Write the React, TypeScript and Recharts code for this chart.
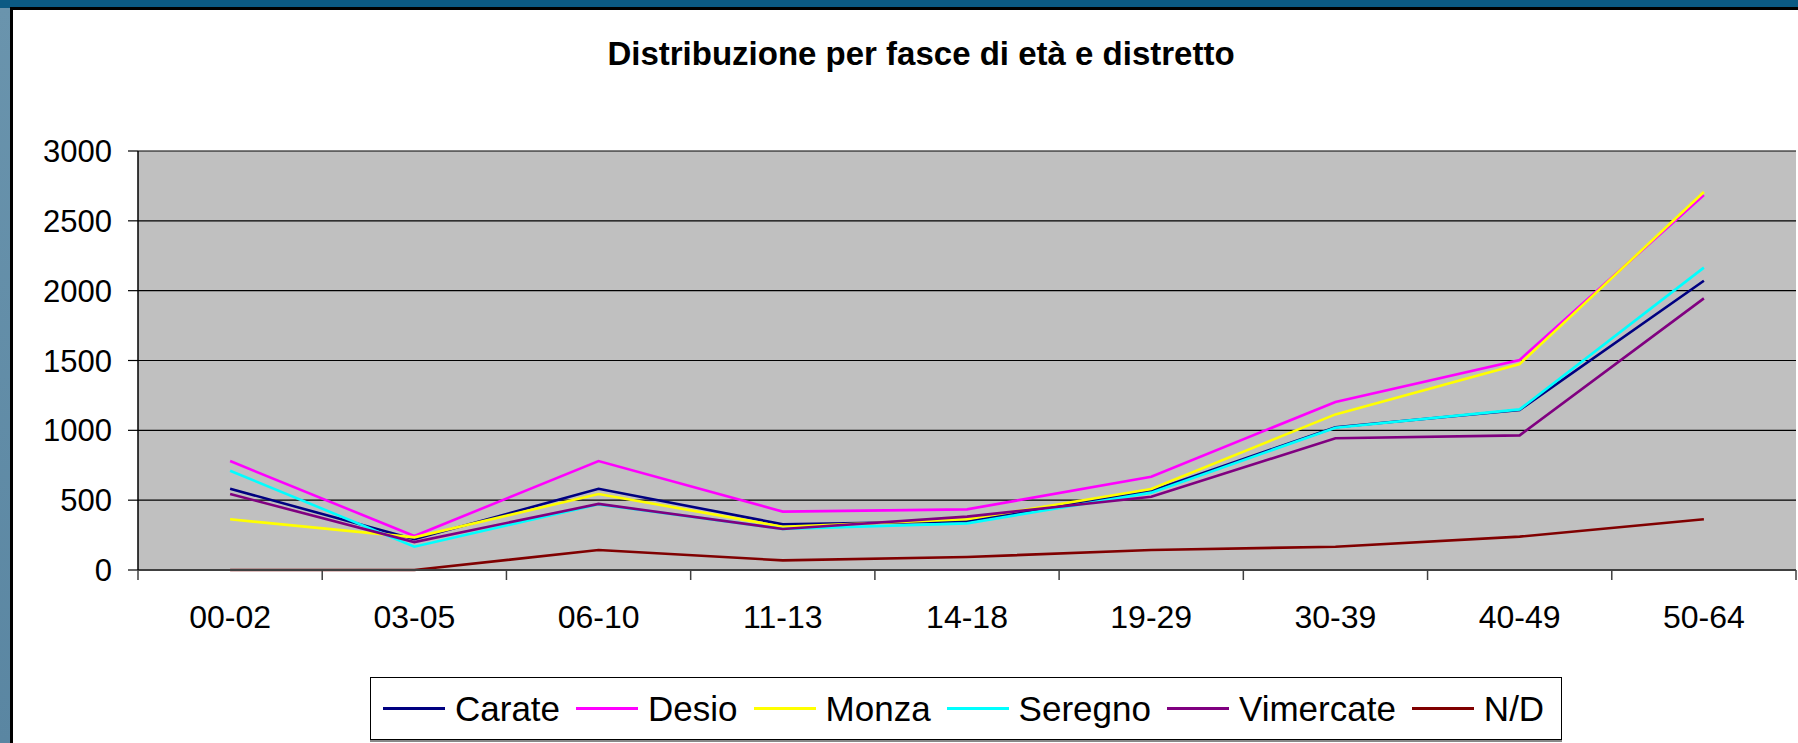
import { LineChart, Line, XAxis, YAxis, CartesianGrid, Legend } from "recharts";

const categories = ["00-02", "03-05", "06-10", "11-13", "14-18", "19-29", "30-39", "40-49", "50-64"];
const carate = [582, 220, 582, 327, 349, 566, 1022, 1146, 2071];
const desio = [780, 243, 780, 418, 434, 668, 1203, 1504, 2685];
const monza = [363, 234, 544, 310, 363, 580, 1114, 1475, 2706];
const seregno = [711, 167, 470, 294, 334, 554, 1019, 1150, 2165];
const vimercate = [544, 200, 473, 294, 382, 525, 943, 964, 1945];
const nd = [0, 0, 143, 69, 93, 143, 167, 239, 363];
const yTicks = [0, 500, 1000, 1500, 2000, 2500, 3000];

const series = [
  { key: "Carate", values: carate, color: "#000080" },
  { key: "Desio", values: desio, color: "#FF00FF" },
  { key: "Monza", values: monza, color: "#FFFF00" },
  { key: "Seregno", values: seregno, color: "#00FFFF" },
  { key: "Vimercate", values: vimercate, color: "#800080" },
  { key: "N/D", values: nd, color: "#800000" },
];

const data = categories.map((cat, i) => {
  const row: Record<string, string | number> = { cat };
  series.forEach((s) => {
    row[s.key] = s.values[i];
  });
  return row;
});

const W = 1798;
const H = 743;
const PLOT_LEFT = 138;
const PLOT_RIGHT = 1796;
const BAND = (PLOT_RIGHT - PLOT_LEFT) / categories.length;
const FONT = "'Liberation Sans', Arial, sans-serif";

// category label at band centre, tick marks between categories (Excel style)
const CategoryTick = (props: any) => {
  const { x, y, payload, index } = props;
  const left = x - BAND / 2;
  const right = x + BAND / 2;
  return (
    <g>
      <line x1={left} y1={y - 10} x2={left} y2={y} stroke="#404040" strokeWidth={1.5} />
      {index === categories.length - 1 && (
        <line x1={right} y1={y - 10} x2={right} y2={y} stroke="#404040" strokeWidth={1.5} />
      )}
      <text x={x} y={y + 48} textAnchor="middle" fontSize={32} fontFamily={FONT} fill="#000">
        {payload.value}
      </text>
    </g>
  );
};

const renderLegend = () => (
  <div
    style={{
      boxSizing: "border-box",
      width: "100%",
      height: "100%",
      border: "1.5px solid #000",
      boxShadow: "0 2px 0 #888",
      background: "#fff",
      display: "flex",
      alignItems: "center",
      paddingLeft: 12,
      fontFamily: FONT,
      fontSize: 35,
      color: "#000",
    }}
  >
    {series.map((s) => (
      <div key={s.key} style={{ display: "flex", alignItems: "center", marginRight: 16 }}>
        <span style={{ display: "inline-block", width: 62, height: 3, background: s.color, marginRight: 10 }} />
        <span style={{ lineHeight: "40px" }}>{s.key}</span>
      </div>
    ))}
  </div>
);

export default function App() {
  return (
    <div
      style={{
        position: "absolute",
        left: 0,
        top: 0,
        width: W,
        height: H,
        overflow: "hidden",
        background: "linear-gradient(to bottom, #0b5a84 0px, #0b5a84 8px, #6a94ad 8px, #5a86a2 100%)",
      }}
    >
      <div
        style={{
          position: "absolute",
          left: 10,
          top: 7,
          right: 0,
          bottom: 0,
          background: "#fff",
          borderLeft: "3px solid #000",
          borderTop: "3px solid #000",
        }}
      />
      <div
        style={{
          position: "absolute",
          left: 421,
          width: 1000,
          top: 37,
          textAlign: "center",
          fontFamily: FONT,
          fontWeight: "bold",
          fontSize: 33,
          lineHeight: "33px",
          color: "#000",
        }}
      >
        Distribuzione per fasce di età e distretto
      </div>
      <div style={{ position: "absolute", left: 0, top: 0 }}>
        <LineChart width={W} height={H} data={data} margin={{ top: 151, right: 2, left: 0, bottom: 113 }}>
          <CartesianGrid vertical={false} stroke="#000" strokeWidth={1.2} fill="#C0C0C0" fillOpacity={1} />
          <XAxis
            dataKey="cat"
            type="category"
            interval={0}
            height={60}
            padding={{ left: BAND / 2, right: BAND / 2 }}
            tickLine={false}
            tickSize={10}
            tickMargin={0}
            axisLine={{ stroke: "#404040", strokeWidth: 2 }}
            tick={<CategoryTick />}
          />
          {/* plot frame: top and right edges */}
          <XAxis
            xAxisId="frame"
            orientation="top"
            dataKey="cat"
            type="category"
            height={0}
            tick={false}
            tickLine={false}
            axisLine={{ stroke: "#808080", strokeWidth: 2.5 }}
          />
          <YAxis
            domain={[0, 3000]}
            ticks={yTicks}
            width={138}
            tickSize={10}
            tickMargin={16}
            axisLine={{ stroke: "#000", strokeWidth: 1.5 }}
            tickLine={{ stroke: "#000", strokeWidth: 1.2 }}
            tick={{ fontSize: 31, fill: "#000", fontFamily: FONT }}
          />
          <YAxis
            yAxisId="frame"
            orientation="right"
            domain={[0, 3000]}
            width={0}
            tick={false}
            tickLine={false}
            axisLine={{ stroke: "#808080", strokeWidth: 2.5 }}
          />
          <Legend
            layout="horizontal"
            verticalAlign="middle"
            align="center"
            wrapperStyle={{ left: 370, top: 677, width: 1192, height: 63 }}
            content={renderLegend}
          />
          {series.map((s) => (
            <Line
              key={s.key}
              type="linear"
              dataKey={s.key}
              stroke={s.color}
              strokeWidth={2.6}
              dot={false}
              activeDot={false}
              isAnimationActive={false}
            />
          ))}
        </LineChart>
      </div>
    </div>
  );
}
